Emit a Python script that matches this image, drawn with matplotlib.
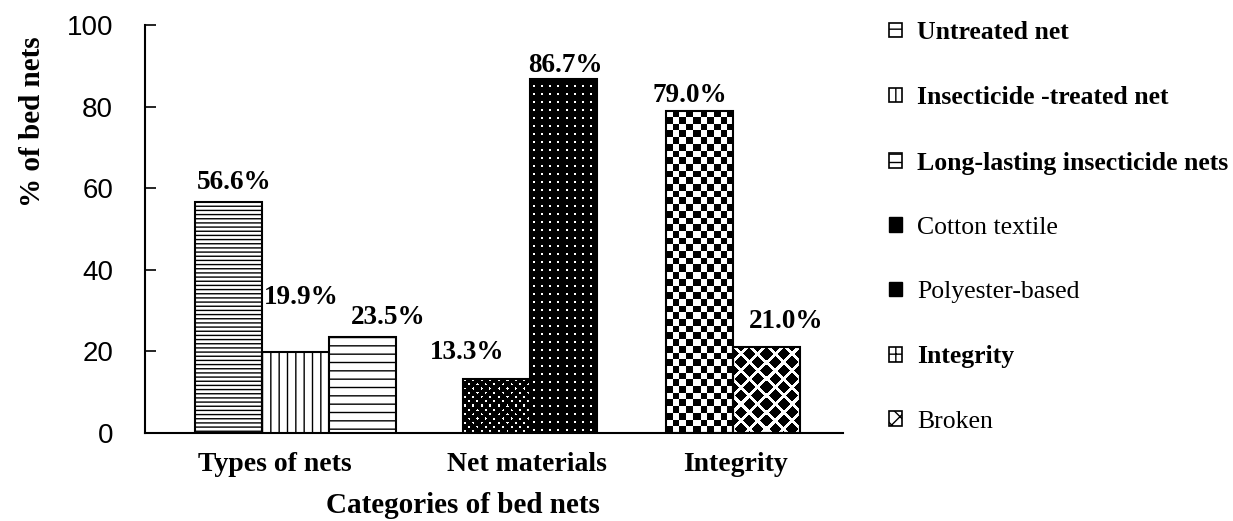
import numpy as np
import matplotlib
matplotlib.use('Agg')
import matplotlib.pyplot as plt
from matplotlib.patches import Patch

groups = ['Types of nets', 'Net materials', 'Integrity']
series = ['Untreated net', 'Insecticide -treated net', 'Long-lasting insecticide nets',
          'Cotton textile', 'Polyester-based', 'Integrity', 'Broken']
series_group = [0, 0, 0, 1, 1, 2, 2]
values = [56.6, 19.9, 23.5, 13.3, 86.7, 79.0, 21.0]
value_labels = ['56.6%', '19.9%', '23.5%', '13.3%', '86.7%', '79.0%', '21.0%']
y_ticks = [0, 20, 40, 60, 80, 100]

# layout (pixels of the 1233x521 figure)
W, H = 1233, 521
AX_L, AX_T, AX_R, AX_B = 145, 25, 843, 433
group_left = [0.215, 1.367, 2.239]
group_tick = [0.56, 1.64, 2.54]
bar_w = 0.288
label_off_px = [(6, 20), (6, 54), (26, 20), (-29, 26), (2, 14), (-10, 15), (20, 26)]
fills = ['hatch:----', 'hatch:||', 'hatch:--', 'tex:cotton', 'tex:poly', 'tex:checker', 'tex:diamond']
legend_bold = [True, True, True, False, False, True, False]

SERIF = 'Liberation Serif'
plt.rcParams['hatch.linewidth'] = 1.0


def lattice(xx, yy, period, row, stagger, metric):
    best = None
    r0 = np.floor(yy / row)
    for k in (0, 1):
        r = r0 + k
        shift = (r % 2) * period / 2 if stagger else 0
        dx = (xx - shift + period / 2) % period - period / 2
        dy = yy - r * row
        d = np.hypot(dx, dy) if metric == 'l2' else np.abs(dx) + np.abs(dy)
        best = d if best is None else np.minimum(best, d)
    return best


def texture(kind, w, h):
    yy, xx = np.mgrid[0:h, 0:w].astype(float)
    xx += 0.5
    yy += 0.5
    if kind == 'cotton':
        return (lattice(xx - 2, yy - 2, 8.3, 4.15, True, 'l2') <= 1.1).astype(float)
    if kind == 'poly':
        return (lattice(xx - 4, yy - 3, 8.0, 8.0, False, 'l2') <= 1.2).astype(float)
    if kind == 'checker':
        return (((xx // 6.7).astype(int) + (yy // 6.7).astype(int)) % 2).astype(float)
    # diamond: black diamonds on white
    return (lattice(xx - 8, yy - 4, 16.7, 8.35, True, 'l1') > 6.3).astype(float)


fig = plt.figure(figsize=(W / 100, H / 100), dpi=100)
ax = fig.add_axes([AX_L / W, 1 - AX_B / H, (AX_R - AX_L) / W, (AX_B - AX_T) / H])
ax.set_xlim(0, 3)
ax.set_ylim(0, 100)

slot = {0: 0, 1: 0, 2: 0}
handles = []
for i, (name, g, v, fill) in enumerate(zip(series, series_group, values, fills)):
    x0 = group_left[g] + slot[g] * bar_w
    slot[g] += 1
    kind, spec = fill.split(':')
    if kind == 'hatch':
        ax.bar(x0, v, bar_w, align='edge', facecolor='white', edgecolor='black',
               hatch=spec, linewidth=1.5, zorder=3)
        handles.append(Patch(facecolor='white', edgecolor='black', hatch=spec[:2], linewidth=1.2))
    else:
        p0 = ax.transData.transform((x0, 0))
        p1 = ax.transData.transform((x0 + bar_w, v))
        w_px = int(round(p1[0] - p0[0]))
        h_px = int(round(p1[1] - p0[1]))
        ax.imshow(texture(spec, w_px, h_px), cmap='gray', vmin=0, vmax=1,
                  extent=(x0, x0 + bar_w, 0, v), origin='lower', aspect='auto',
                  interpolation='nearest', zorder=2)
        ax.bar(x0, v, bar_w, align='edge', fill=False, edgecolor='black',
               linewidth=1.5, zorder=3)
        if spec in ('cotton', 'poly'):
            handles.append(Patch(facecolor='black', edgecolor='black'))
        elif spec == 'checker':
            handles.append(Patch(facecolor='white', edgecolor='black', hatch='++', linewidth=1.2))
        else:
            handles.append(Patch(facecolor='white', edgecolor='black', hatch='xx', linewidth=1.2))
    dx, dy = label_off_px[i]
    ax.annotate(value_labels[i], (x0 + bar_w / 2, v), xytext=(dx * 0.72, dy * 0.72),
                textcoords='offset points', ha='center', va='center',
                fontsize=19.5, fontweight='bold', family=SERIF, zorder=4)

ax.set_xlim(0, 3)
ax.set_ylim(0, 100)

for side in ('top', 'right'):
    ax.spines[side].set_visible(False)
ax.spines['left'].set_linewidth(1.5)
ax.spines['bottom'].set_linewidth(1.5)

ax.set_yticks(y_ticks)
ax.set_yticklabels([str(t) for t in y_ticks], family='Liberation Sans', fontsize=20)
ax.tick_params(axis='y', direction='in', length=8, width=1.2, pad=23)
ax.set_xticks(group_tick)
ax.set_xticklabels(groups, family=SERIF, fontsize=20, fontweight='bold')
ax.tick_params(axis='x', length=0, pad=14)

ax.set_ylabel('% of bed nets', family=SERIF, fontsize=21, fontweight='bold')
ax.yaxis.set_label_coords((46 - AX_L) / (AX_R - AX_L), (AX_B - 122) / (AX_B - AX_T))
ax.set_xlabel('Categories of bed nets', family=SERIF, fontsize=21, fontweight='bold')
ax.xaxis.set_label_coords((463 - AX_L) / (AX_R - AX_L), -(492 - AX_B) / (AX_B - AX_T))

leg = fig.legend(handles, series, loc='upper left', bbox_to_anchor=(889 / W, 1 - 21 / H),
                 frameon=False, prop={'family': SERIF, 'size': 18.5, 'weight': 'bold'},
                 handlelength=0.5, handleheight=0.5, handletextpad=0.6,
                 labelspacing=1.645, borderpad=0, borderaxespad=0)
for txt, bold in zip(leg.get_texts(), legend_bold):
    if not bold:
        txt.set_fontweight('normal')

fig.savefig('out.png', dpi=100)
